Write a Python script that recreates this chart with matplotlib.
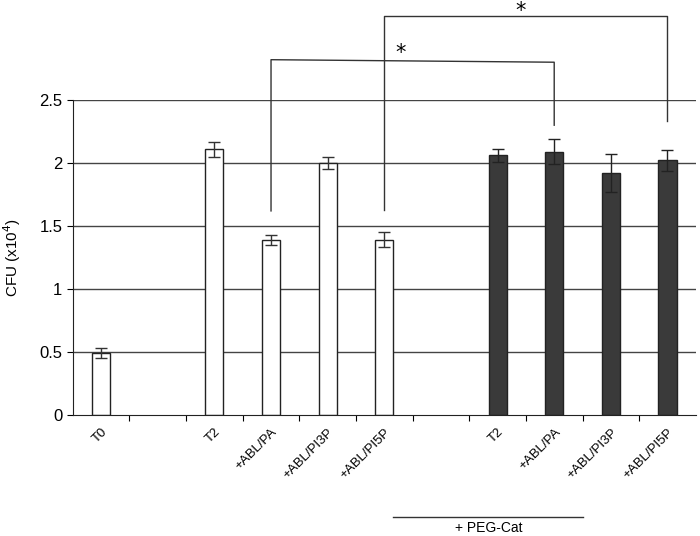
import numpy as np
import matplotlib.pyplot as plt
from matplotlib.transforms import blended_transform_factory

plt.rcParams['font.family'] = ['Liberation Sans', 'DejaVu Sans']

# kategoriler (bos yerler bosluk icin)
labels = ["T0", "", "T2", "+ABL/PA", "+ABL/PI3P", "+ABL/PI5P", "",
          "T2", "+ABL/PA", "+ABL/PI3P", "+ABL/PI5P"]
white_pos = [0, 2, 3, 4, 5]
white_vals = [0.49, 2.11, 1.39, 2.00, 1.39]
white_err = [0.04, 0.06, 0.04, 0.05, 0.06]
dark_pos = [7, 8, 9, 10]
dark_vals = [2.06, 2.09, 1.92, 2.02]
dark_err = [0.05, 0.10, 0.15, 0.08]

fig = plt.figure(figsize=(7, 5.36), dpi=100)
ax = fig.add_axes([0.104, 0.2257, 0.89, 0.5877])

ax.set_axisbelow(True)
for y in [0.5, 1, 1.5, 2, 2.5]:
    ax.axhline(y, color="#444444", lw=1, zorder=0)

w = 0.32
ax.bar(white_pos, white_vals, w, color="white", edgecolor="#222222", lw=1, zorder=2)
ax.bar(dark_pos, dark_vals, w, color="#3a3a3a", edgecolor="#222222", lw=1, zorder=2)
ax.errorbar(white_pos, white_vals, yerr=white_err, fmt="none", ecolor="#333333",
            elinewidth=1, capsize=4.5, capthick=1, zorder=3)
ax.errorbar(dark_pos, dark_vals, yerr=dark_err, fmt="none", ecolor="#222222",
            elinewidth=1, capsize=4.5, capthick=1, zorder=3)

ax.set_xlim(-0.5, 10.5)
ax.set_ylim(0, 2.5)
ax.set_yticks([0, 0.5, 1, 1.5, 2, 2.5])
ax.set_yticklabels(["0", "0.5", "1", "1.5", "2", "2.5"], fontsize=12)
ax.set_ylabel("CFU (x10$^4$)", fontsize=11, labelpad=12)

# tick isaretleri kategoriler arasinda
ax.set_xticks(np.arange(0.5, 10.5, 1))
ax.set_xticklabels([])
ax.set_xticks(np.arange(11), minor=True)
ax.set_xticklabels(labels, minor=True, rotation=45, ha="right",
                   rotation_mode="anchor", fontsize=9.5)
ax.tick_params(axis="x", which="minor", length=0, pad=8)
ax.tick_params(axis="x", which="major", length=4, direction="out")
ax.tick_params(axis="y", length=4, direction="out")
for s in ["top", "right"]:
    ax.spines[s].set_visible(False)
ax.spines["left"].set_color("#222222")
ax.spines["bottom"].set_color("#222222")

# anlamlilik parantezleri
bc = "#333333"
ax.plot([3, 3, 8, 8], [1.62, 2.82, 2.80, 2.30], color=bc, lw=1, clip_on=False, zorder=1)
ax.plot([5, 5, 10, 10], [1.63, 3.17, 3.17, 2.33], color=bc, lw=1, clip_on=False, zorder=1)
ax.text(5.28, 2.87, "*", fontsize=15, ha="center", va="center", family="DejaVu Sans")
ax.text(7.4, 3.21, "*", fontsize=15, ha="center", va="center", family="DejaVu Sans")

# + PEG-Cat
tr = blended_transform_factory(ax.transData, fig.transFigure)
ax.plot([5.15, 8.5], [1 - 517 / 536, 1 - 517 / 536], color="#333333", lw=1,
        transform=tr, clip_on=False)
ax.text(6.85, 1 - 528 / 536, "+ PEG-Cat", fontsize=10, ha="center", va="center",
        transform=tr)

fig.savefig("out.png", dpi=100)
